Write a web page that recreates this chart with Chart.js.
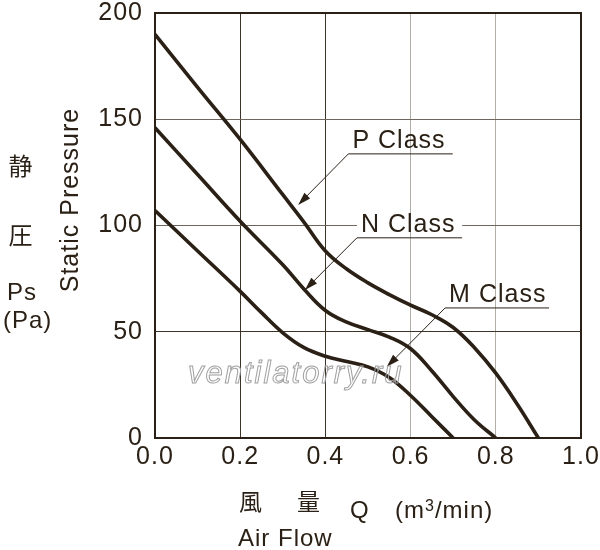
<!DOCTYPE html>
<html>
<head>
<meta charset="utf-8">
<script src="https://cdn.jsdelivr.net/npm/chart.js@4.4.1/dist/chart.umd.min.js"></script>
<style>
  html, body { margin: 0; padding: 0; background: #ffffff; }
  #wrap { width: 600px; height: 550px; }
</style>
</head>
<body>
<div id="wrap">
  <canvas id="fanChart" width="600" height="550"></canvas>
</div>
<script>
// =========================
// DATA
// =========================

const flowP = [0, 0.1, 0.2, 0.3, 0.35, 0.4, 0.45, 0.5, 0.55, 0.6, 0.65, 0.7, 0.75, 0.8, 0.85, 0.9];
const pressP = [190, 165, 140.5, 114.5, 101.5, 88, 79.5, 73, 67.5, 62.5, 58, 52, 42.5, 30.5, 16, 0];

const flowN = [0, 0.1, 0.2, 0.3, 0.35, 0.4, 0.45, 0.5, 0.55, 0.6, 0.65, 0.7, 0.75, 0.8];
const pressN = [146, 124, 102, 81.5, 70, 60, 54.5, 51, 47.5, 42, 31.5, 19.5, 8.5, 0];

const flowM = [0, 0.1, 0.2, 0.25, 0.3, 0.35, 0.4, 0.45, 0.5, 0.55, 0.6, 0.65, 0.7];
const pressM = [107, 88, 69, 59, 49.5, 42.5, 38.5, 36, 33.5, 28.5, 20, 10, 0];

const xTicks = [0, 0.2, 0.4, 0.6, 0.8, 1.0];
const yTicks = [0, 50, 100, 150, 200];

// callout labels, in data units: underline start/end and arrow tip
const calloutNames = ["P Class", "N Class", "M Class"];
const calloutLineFrom = [[0.454, 133.7], [0.474, 94.2], [0.681, 61.2]];
const calloutLineTo = [0.699, 0.721, 0.925];
const calloutTip = [[0.336, 109.7], [0.352, 69.7], [0.544, 33.5]];

// =========================
// HELPERS
// =========================

const ink = "#2a2015";
const latin = "'Liberation Sans', Arial, sans-serif";
const cjk = "'Noto Sans CJK JP', 'Noto Sans CJK SC', sans-serif";

function toPoints(xs, ys)
{
  return xs.map((x, i) => ({ x: x, y: ys[i] }));
}

function curve(label, xs, ys)
{
  return {
    label: label,
    data: toPoints(xs, ys),
    borderColor: ink,
    borderWidth: 3.6,
    pointRadius: 0,
    fill: false,
    tension: 0.4
  };
}

function drawArrow(ctx, x1, y1, x2, y2)
{
  const ang = Math.atan2(y2 - y1, x2 - x1);
  const len = 13;
  const half = 4;

  ctx.beginPath();
  ctx.moveTo(x1, y1);
  ctx.lineTo(x2 - Math.cos(ang) * len * 0.8, y2 - Math.sin(ang) * len * 0.8);
  ctx.stroke();

  ctx.beginPath();
  ctx.moveTo(x2, y2);
  ctx.lineTo(
    x2 - Math.cos(ang) * len + Math.sin(ang) * half,
    y2 - Math.sin(ang) * len - Math.cos(ang) * half
  );
  ctx.lineTo(
    x2 - Math.cos(ang) * len - Math.sin(ang) * half,
    y2 - Math.sin(ang) * len + Math.cos(ang) * half
  );
  ctx.closePath();
  ctx.fill();
}

// =========================
// PLUGIN: FRAME, LABELS, CALLOUTS
// =========================

const decorPlugin = {
  id: "decor",

  beforeDraw(chart)
  {
    chart.ctx.letterSpacing = "1px";
  },

  beforeDatasetsDraw(chart)
  {
    const ctx = chart.ctx;
    const xs = chart.scales.x;
    const ys = chart.scales.y;
    const area = chart.chartArea;

    ctx.save();

    // gap in the 100 gridline behind "N Class"
    const i = 1;
    const gx1 = xs.getPixelForValue(calloutLineFrom[i][0]);
    const gx2 = xs.getPixelForValue(calloutLineTo[i]);
    const gy = ys.getPixelForValue(100);
    ctx.fillStyle = "#ffffff";
    ctx.fillRect(gx1, gy - 3, gx2 - gx1, 6);

    // frame
    ctx.strokeStyle = ink;
    ctx.lineWidth = 2;
    ctx.strokeRect(area.left, area.top, area.right - area.left, area.bottom - area.top);

    ctx.restore();
  },

  afterDatasetsDraw(chart)
  {
    const ctx = chart.ctx;
    const xs = chart.scales.x;
    const ys = chart.scales.y;

    ctx.save();
    ctx.fillStyle = ink;
    ctx.strokeStyle = ink;
    ctx.lineWidth = 1;
    ctx.letterSpacing = "1px";
    ctx.font = "25px " + latin;
    ctx.textAlign = "left";
    ctx.textBaseline = "alphabetic";

    calloutNames.forEach((name, k) =>
    {
      const x1 = xs.getPixelForValue(calloutLineFrom[k][0]);
      const y1 = ys.getPixelForValue(calloutLineFrom[k][1]);
      const x2 = xs.getPixelForValue(calloutLineTo[k]);
      const tx = xs.getPixelForValue(calloutTip[k][0]);
      const ty = ys.getPixelForValue(calloutTip[k][1]);

      ctx.fillText(name, x1 + 4, y1 - 5.5);

      ctx.beginPath();
      ctx.moveTo(x1, y1);
      ctx.lineTo(x2, y1);
      ctx.stroke();

      drawArrow(ctx, x1, y1, tx, ty);
    });

    // watermark
    ctx.font = "italic 31px " + latin;
    ctx.letterSpacing = "2px";
    ctx.strokeStyle = "#a0a0a0";
    ctx.lineWidth = 1;
    ctx.strokeText("ventilatorry.ru", 188, 383);

    ctx.restore();
  },

  afterDraw(chart)
  {
    const ctx = chart.ctx;

    ctx.save();
    ctx.fillStyle = ink;
    ctx.letterSpacing = "1px";

    // y axis title
    ctx.font = "25px " + latin;
    ctx.textAlign = "center";
    ctx.textBaseline = "alphabetic";
    ctx.save();
    ctx.translate(78, 200);
    ctx.rotate(-Math.PI / 2);
    ctx.fillText("Static Pressure", 0, 0);
    ctx.restore();

    ctx.font = "24px " + cjk;
    ctx.textBaseline = "middle";
    ctx.fillText("静", 21, 166);
    ctx.fillText("圧", 21, 235);

    ctx.font = "24px " + latin;
    ctx.textAlign = "left";
    ctx.textBaseline = "alphabetic";
    ctx.fillText("Ps", 7, 300);
    ctx.fillText("(Pa)", 3, 328);

    // x axis title
    ctx.font = "23px " + cjk;
    ctx.textBaseline = "middle";
    ctx.fillText("風", 239, 501);
    ctx.fillText("量", 297, 501);

    ctx.font = "24px " + latin;
    ctx.textBaseline = "alphabetic";
    ctx.fillText("Q", 350, 518);
    ctx.fillText("(m", 395, 518);
    const wm = ctx.measureText("(m").width;
    ctx.font = "16px " + latin;
    ctx.fillText("3", 395 + wm, 511);
    const w3 = ctx.measureText("3").width;
    ctx.font = "24px " + latin;
    ctx.fillText("/min)", 395 + wm + w3, 518);
    ctx.fillText("Air Flow", 238, 546);

    ctx.restore();
  }
};

// =========================
// CHART
// =========================

const ctx = document.getElementById("fanChart");

const fanChart = new Chart(ctx, {
  type: "line",
  data: {
    datasets: [
      curve("P Class", flowP, pressP),
      curve("N Class", flowN, pressN),
      curve("M Class", flowM, pressM)
    ]
  },
  options: {
    responsive: false,
    animation: false,
    layout: {
      padding: { top: 13, right: 19, left: 0, bottom: 0 }
    },
    plugins: {
      legend: { display: false },
      tooltip: { enabled: false }
    },
    scales: {
      x: {
        type: "linear",
        min: 0,
        max: 1,
        afterBuildTicks: (s) => { s.ticks = xTicks.map(v => ({ value: v })); },
        afterFit: (s) =>
        {
          s.height = 112;
          s.paddingLeft = 0;
          s.paddingRight = 0;
        },
        ticks: {
          color: ink,
          padding: 7,
          font: { family: latin, size: 25, lineHeight: 1 },
          callback: (v) => Number(v).toFixed(1)
        },
        grid: {
          drawTicks: false,
          lineWidth: 1,
          color: (c) => (c.tick && c.tick.value >= 0.6 ? "#b3aea6" : "#3d3327")
        },
        border: { display: false }
      },
      y: {
        min: 0,
        max: 200,
        afterBuildTicks: (s) => { s.ticks = yTicks.map(v => ({ value: v })); },
        afterFit: (s) =>
        {
          s.width = 155;
          s.paddingTop = 0;
          s.paddingBottom = 0;
        },
        ticks: {
          color: ink,
          padding: 12,
          font: { family: latin, size: 25, lineHeight: 1 }
        },
        grid: {
          drawTicks: false,
          lineWidth: 1,
          color: (c) => (c.tick && c.tick.value === 50 ? "#3d3327" : "#6e665c")
        },
        border: { display: false }
      }
    }
  },
  plugins: [decorPlugin]
});
</script>
</body>
</html>
